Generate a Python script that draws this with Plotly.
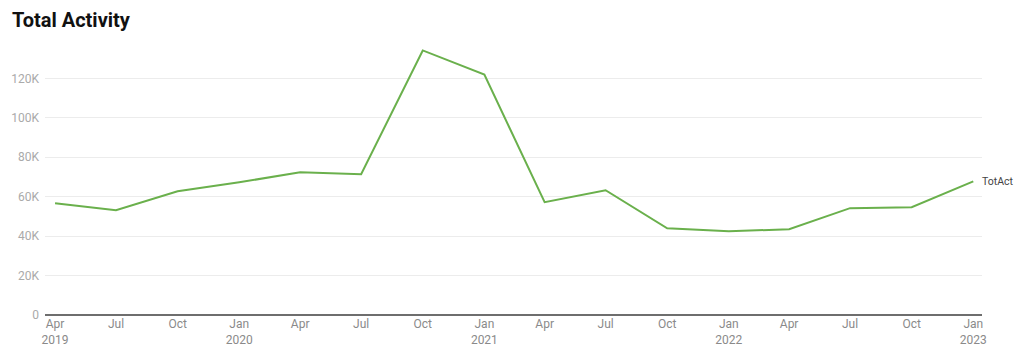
import plotly.graph_objects as go

dates = ["2019-04-01", "2019-07-01", "2019-10-01", "2020-01-01", "2020-04-01", "2020-07-01",
         "2020-10-01", "2021-01-01", "2021-04-01", "2021-07-01", "2021-10-01", "2022-01-01",
         "2022-04-01", "2022-07-01", "2022-10-01", "2023-01-01"]
tot_act = [56700, 53200, 62800, 67300, 72400, 71400, 134200, 122000, 57200, 63300,
           44000, 42500, 43500, 54200, 54700, 67800]
tick_labels = ["Apr<br>2019", "Jul", "Oct", "Jan<br>2020", "Apr", "Jul", "Oct", "Jan<br>2021",
               "Apr", "Jul", "Oct", "Jan<br>2022", "Apr", "Jul", "Oct", "Jan<br>2023"]
y_vals = [0, 20000, 40000, 60000, 80000, 100000, 120000]
y_labels = ["0", "20K", "40K", "60K", "80K", "100K", "120K"]

W, H = 1008, 341

fig = go.Figure()
fig.add_trace(go.Scatter(x=dates, y=tot_act, mode="lines", name="TotAct",
                         line=dict(color="#6ab04c", width=2)))
fig.add_annotation(x=dates[-1], y=tot_act[-1], text="TotAct", showarrow=False,
                   xanchor="left", yanchor="middle", xshift=7,
                   font=dict(family="Roboto", size=10.5, color="#444"))

fig.update_layout(
    width=W, height=H,
    margin=dict(l=37, r=34, t=31, b=34, autoexpand=False),
    paper_bgcolor="white", plot_bgcolor="white",
    showlegend=False,
    title=dict(text="<b>Total Activity</b>", x=4 / W, xanchor="left", y=1 - 12 / H, yanchor="middle",
               font=dict(family="Roboto", size=20, color="#111")),
    font=dict(family="Roboto", size=12, color="#999"),
)
fig.update_xaxes(range=["2019-03-17", "2023-01-14"], tickvals=dates, ticktext=tick_labels,
                 showgrid=False, showline=False, zeroline=False, ticks="", automargin=False,
                 tickfont=dict(size=12, color="#8a8a8a"))
fig.update_yaxes(range=[0, 140000], tickvals=y_vals, ticktext=y_labels,
                 showgrid=True, gridcolor="#ececec", gridwidth=1,
                 zeroline=True, zerolinecolor="#6e6e6e", zerolinewidth=1.5,
                 showline=False, ticks="", ticklabelstandoff=5, automargin=False,
                 tickfont=dict(size=12, color="#aaa"))

fig.write_html("out.html")
